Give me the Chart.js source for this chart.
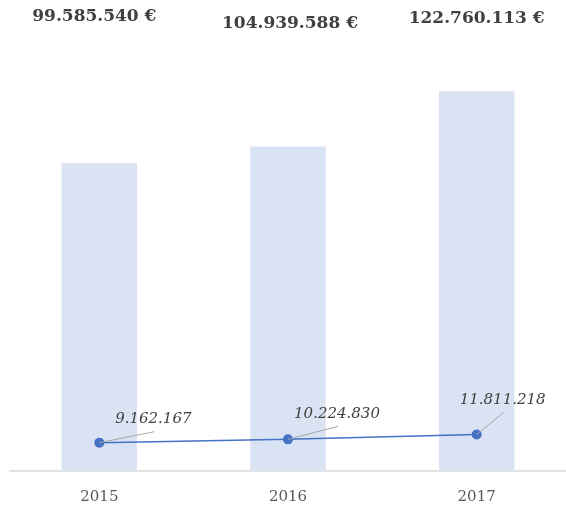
<!DOCTYPE html>
<html>
<head>
<meta charset="utf-8">
<script src="https://cdn.jsdelivr.net/npm/chart.js@4/dist/chart.umd.min.js"></script>
<style>
  html, body { margin: 0; padding: 0; background: #fff; overflow: hidden; }
  #wrap { position: relative; width: 576px; height: 512px; }
</style>
</head>
<body>
<div id="wrap"><canvas id="chart"></canvas></div>
<script>
const years = ['2015', '2016', '2017'];
const revenue = [99585540, 104939588, 122760113];
const secondary = [9162167, 10224830, 11811218];

// dotted thousands like the source
const fmt = (n) => String(n).replace(/\B(?=(\d{3})+(?!\d))/g, '.');

// hand-placed labels, as in the original sheet
const barLabelY = [17, 24, 19];
const barLabelDx = [-5, 2, 0];
const lineLabelOffsets = [
  { dx: 54, dy: -24, lx: 55, ly: -11 },
  { dx: 49, dy: -25, lx: 50, ly: -13 },
  { dx: 26, dy: -34, lx: 27, ly: -22 }
];

const labelsPlugin = {
  id: 'labels',
  beforeDatasetsDraw(chart) {
    // category axis line, starts a bit right of the plot edge
    const ctx = chart.ctx;
    const a = chart.chartArea;
    ctx.save();
    ctx.strokeStyle = '#d9d9d9';
    ctx.lineWidth = 1.5;
    ctx.beginPath();
    ctx.moveTo(9, a.bottom);
    ctx.lineTo(a.right, a.bottom);
    ctx.stroke();
    ctx.restore();
  },
  afterDatasetsDraw(chart) {
    const ctx = chart.ctx;
    const bars = chart.getDatasetMeta(1).data;
    const pts = chart.getDatasetMeta(0).data;
    ctx.save();
    ctx.textAlign = 'center';
    ctx.textBaseline = 'middle';
    ctx.fillStyle = '#404040';
    ctx.font = 'bold 17px "DejaVu Serif"';
    bars.forEach((b, i) => {
      ctx.fillText(fmt(revenue[i]) + ' €', b.x + barLabelDx[i], barLabelY[i]);
    });
    ctx.font = 'italic 15px "DejaVu Serif"';
    pts.forEach((p, i) => {
      const o = lineLabelOffsets[i];
      ctx.strokeStyle = '#a6a6a6';
      ctx.lineWidth = 1;
      ctx.beginPath();
      ctx.moveTo(p.x, p.y);
      ctx.lineTo(p.x + o.lx, p.y + o.ly);
      ctx.stroke();
      ctx.fillText(fmt(secondary[i]), p.x + o.dx, p.y + o.dy);
    });
    ctx.restore();
  }
};

new Chart(document.getElementById('chart'), {
  data: {
    labels: years,
    datasets: [
      {
        type: 'line',
        data: secondary,
        order: 0,
        borderColor: '#4472c4',
        backgroundColor: '#4472c4',
        borderWidth: 1.5,
        pointRadius: 5,
        pointBorderWidth: 0,
        tension: 0
      },
      {
        type: 'bar',
        data: revenue,
        order: 1,
        backgroundColor: '#dae3f3',
        barPercentage: 0.4,
        categoryPercentage: 1
      }
    ]
  },
  options: {
    responsive: true,
    maintainAspectRatio: false,
    animation: false,
    layout: { padding: { left: 3, right: 3, top: 7, bottom: 0 } },
    plugins: { legend: { display: false }, tooltip: { enabled: false } },
    scales: {
      x: {
        grid: { display: false, drawTicks: false },
        border: { display: false },
        ticks: {
          padding: 17,
          color: '#595959',
          font: { family: 'DejaVu Serif', size: 15 }
        },
        afterFit(scale) { scale.height = 41; }
      },
      y: {
        display: false,
        min: 0,
        max: 150000000
      }
    }
  },
  plugins: [labelsPlugin]
});
</script>
</body>
</html>
